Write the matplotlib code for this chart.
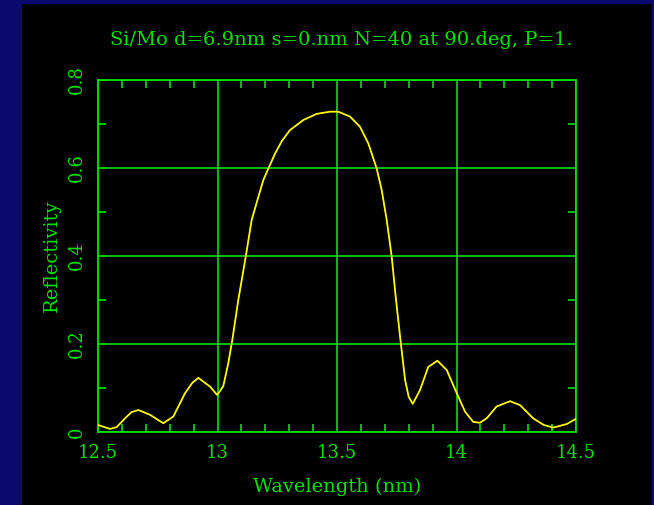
import matplotlib
matplotlib.use("Agg")
import matplotlib.pyplot as plt
from matplotlib.patches import Rectangle
from matplotlib.ticker import MultipleLocator

# reflectivity curve
wavelength = [12.500, 12.550, 12.578, 12.613, 12.640, 12.669, 12.718, 12.773, 12.815,
              12.864, 12.895, 12.920, 12.969, 12.999, 13.024, 13.045, 13.062, 13.087,
              13.118, 13.143, 13.167, 13.192, 13.213, 13.241, 13.270, 13.303, 13.359,
              13.415, 13.471, 13.505, 13.554, 13.596, 13.631, 13.666, 13.687, 13.708,
              13.729, 13.747, 13.767, 13.785, 13.800, 13.817, 13.847, 13.882, 13.920,
              13.959, 13.998, 14.036, 14.070, 14.098, 14.126, 14.168, 14.224, 14.266,
              14.321, 14.365, 14.405, 14.461, 14.500]
reflectivity = [0.016, 0.007, 0.011, 0.031, 0.045, 0.050, 0.039, 0.020, 0.035,
                0.088, 0.112, 0.123, 0.103, 0.084, 0.104, 0.156, 0.209, 0.300,
                0.398, 0.482, 0.527, 0.573, 0.599, 0.633, 0.662, 0.686, 0.709,
                0.723, 0.728, 0.728, 0.717, 0.694, 0.656, 0.599, 0.550, 0.482,
                0.398, 0.300, 0.202, 0.118, 0.080, 0.064, 0.095, 0.148, 0.162,
                0.141, 0.092, 0.046, 0.023, 0.021, 0.031, 0.058, 0.070, 0.061,
                0.031, 0.016, 0.010, 0.018, 0.030]

x_major = [12.5, 13, 13.5, 14, 14.5]
y_major = [0, 0.2, 0.4, 0.6, 0.8]

green = "#00e000"
W, H = 654, 505

fig = plt.figure(figsize=(W / 100, H / 100), dpi=100, facecolor="#0a0a6e")
fig.patches.append(Rectangle((22 / W, 0), 630 / W, 501 / H, transform=fig.transFigure,
                             facecolor="black", edgecolor="none", zorder=-10))

ax = fig.add_axes([98 / W, 1 - 432 / H, 478 / W, 352 / H])
ax.set_facecolor("black")
ax.plot(wavelength, reflectivity, color="#ffff00", lw=1.3, zorder=3)

ax.set_xlim(12.5, 14.5)
ax.set_ylim(0, 0.8)
ax.set_xticks(x_major)
ax.set_yticks(y_major)
ax.set_xticklabels(["12.5", "13", "13.5", "14", "14.5"])
ax.set_yticklabels(["0", "0.2", "0.4", "0.6", "0.8"], rotation=90, va="center")
ax.xaxis.set_minor_locator(MultipleLocator(0.1))
ax.yaxis.set_minor_locator(MultipleLocator(0.1))
ax.grid(True, which="major", color=green, lw=1.2, zorder=1)
ax.tick_params(which="both", direction="in", top=True, right=True, colors=green,
               labelsize=13, labelfontfamily="DejaVu Serif")
ax.tick_params(which="major", length=0)
ax.tick_params(which="minor", length=6, width=1.2)
ax.tick_params(axis="x", which="major", pad=9)
ax.tick_params(axis="y", which="major", pad=9)
for s in ax.spines.values():
    s.set_color(green)
    s.set_linewidth(1.3)

ax.set_title("Si/Mo d=6.9nm s=0.nm N=40 at 90.deg, P=1.", color=green,
             fontsize=14, family="DejaVu Serif", pad=25, x=0.508)
ax.set_xlabel("Wavelength (nm)", color=green, fontsize=14, family="DejaVu Serif", labelpad=11)
ax.set_ylabel("Reflectivity", color=green, fontsize=14, family="DejaVu Serif", labelpad=5)

fig.savefig("out.png", dpi=100, facecolor=fig.get_facecolor())
